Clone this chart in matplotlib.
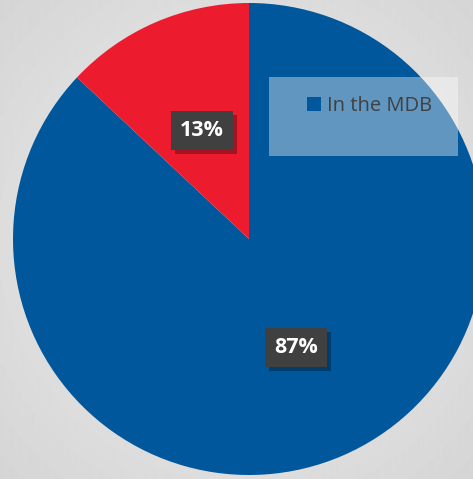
import numpy as np
import matplotlib
matplotlib.use('Agg')
import matplotlib.pyplot as plt
from matplotlib.patches import Rectangle

labels = ['In the MDB', 'Outside the MDB']
values = [87, 13]
colors = ['#00579B', '#EC1C2E']
legend_labels = ['In the MDB']

W, H = 473, 479
fig = plt.figure(figsize=(W / 100, H / 100), dpi=100)

# radial grey background
bg = fig.add_axes([0, 0, 1, 1], zorder=0)
yy, xx = np.mgrid[0:H, 0:W]
r = np.sqrt(((xx - W / 2) / (W / 2)) ** 2 + ((yy - H / 2) / (H / 2)) ** 2)
shade = 0.935 - 0.1 * np.clip(r / 1.41, 0, 1)
bg.imshow(shade, cmap='gray', vmin=0, vmax=1, extent=(0, W, 0, H), aspect='auto')
bg.axis('off')

ax = fig.add_axes([0, 0, 1, 1], zorder=1)
ax.patch.set_alpha(0)
wedges, texts, autotexts = ax.pie(
    values, colors=colors, radius=236, center=(249, 240),
    startangle=90, counterclock=False, frame=True,
    autopct='%1.0f%%', pctdistance=0.5,
    textprops=dict(color='white', fontsize=15.5, fontweight='bold', family='Open Sans'))
ax.set_xlim(0, W)
ax.set_ylim(0, H)
ax.set_aspect('equal')
ax.axis('off')

for t in autotexts:
    t.set_bbox(dict(boxstyle='square,pad=0.42', facecolor='#404040', edgecolor='none'))
    t.set_zorder(4)

# drop shadows behind the label boxes
fig.canvas.draw()
for t in autotexts:
    bb = t.get_bbox_patch().get_window_extent()
    ax.add_patch(Rectangle((bb.x0 + 4, bb.y0 - 4), bb.width, bb.height,
                           facecolor='black', alpha=0.3, edgecolor='none', zorder=3))

# legend box
ax.add_patch(Rectangle((269, H - 156), 189, 79, facecolor='white', alpha=0.38,
                       edgecolor='none', zorder=5))
leg = ax.legend([wedges[0]], legend_labels, loc='upper left',
                bbox_to_anchor=(289 / W, 1 - 78 / H), frameon=False,
                prop=dict(family='Open Sans', size=14.5), handlelength=0.68,
                handleheight=0.68, handletextpad=0.3, labelcolor='#404040')
leg.set_zorder(6)

fig.savefig('out.png', dpi=100)
